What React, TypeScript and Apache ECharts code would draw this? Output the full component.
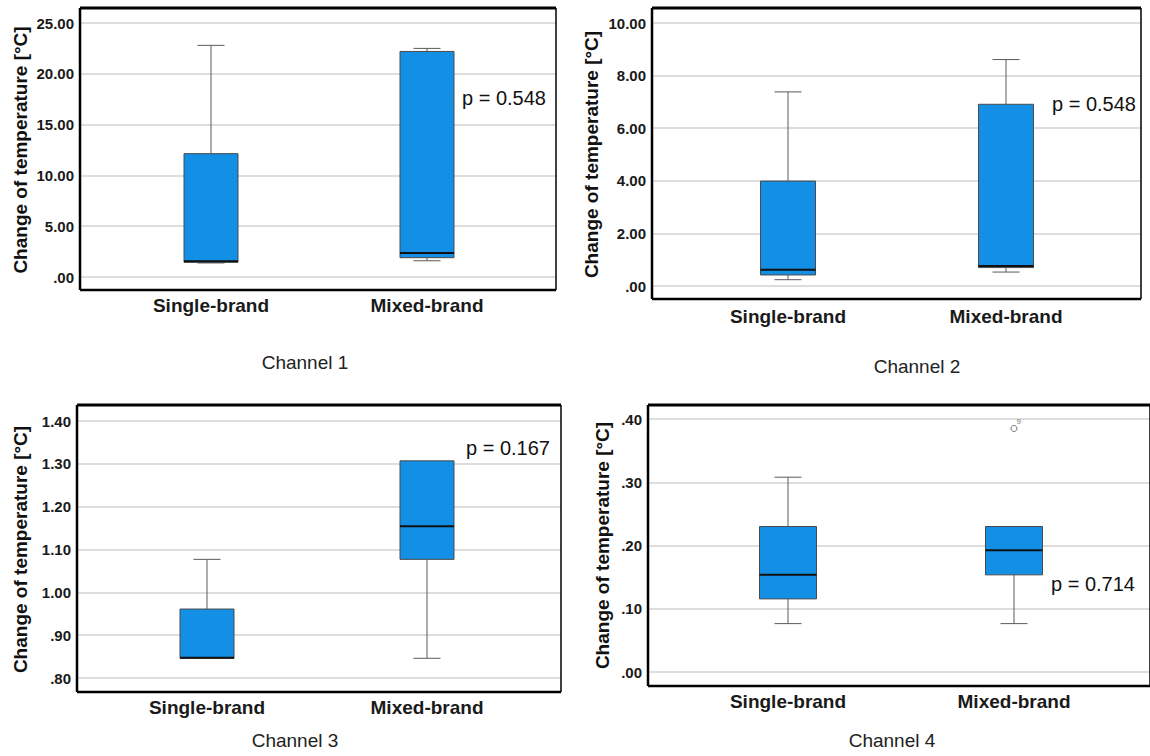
import React, { useEffect, useRef } from 'react';
import * as echarts from 'echarts';

// ---------- data ----------
const categories = ['Single-brand', 'Mixed-brand'];
const channelNames = ['Channel 1', 'Channel 2', 'Channel 3', 'Channel 4'];
const pValues = ['p = 0.548', 'p = 0.548', 'p = 0.167', 'p = 0.714'];
const yAxisTitle = 'Change of temperature [°C]';

// [lower whisker, Q1, median, Q3, upper whisker]
const ch1Single = [1.38, 1.45, 1.55, 12.14, 22.8];
const ch1Mixed = [1.6, 1.9, 2.37, 22.2, 22.5];
const ch2Single = [0.24, 0.42, 0.62, 3.99, 7.38];
const ch2Mixed = [0.53, 0.7, 0.76, 6.91, 8.61];
const ch3Single = [0.846, 0.846, 0.847, 0.961, 1.077];
const ch3Mixed = [0.846, 1.077, 1.154, 1.307, 1.307];
const ch4Single = [0.0765, 0.1156, 0.1536, 0.23, 0.308];
const ch4Mixed = [0.0765, 0.1536, 0.1926, 0.23, 0.23];
const ch4OutlierValues = [0.385];
const ch4OutlierLabels = ['9'];

const yMins = [0, 0, 0.8, 0];
const yMaxs = [25, 10, 1.4, 0.4];
const yIntervals = [5, 2, 0.1, 0.1];

// ---------- layout ----------
const FONT = '"Liberation Sans", Arial, sans-serif';
const panels = [
  { fx: 80, fy: 8, fw: 476, fh: 282, tTop: 23, tBot: 277, c1: 211, c2: 427, bw: 54, px: 462, py: 98, tx: 305, ty: 362, xm: 19, ng: 50 },
  { fx: 652, fy: 8, fw: 489, fh: 291, tTop: 23, tBot: 286, c1: 788, c2: 1006, bw: 55, px: 1052, py: 104, tx: 917, ty: 366, xm: 21, ng: 51 },
  { fx: 77, fy: 405, fw: 484, fh: 287, tTop: 421, tBot: 678, c1: 207, c2: 427, bw: 54, px: 466, py: 448, tx: 295, ty: 740, xm: 20, ng: 47 },
  { fx: 648, fy: 405, fw: 502, fh: 281, tTop: 419, tBot: 672, c1: 788, c2: 1014, bw: 57, px: 1051, py: 584, tx: 892, ty: 740, xm: 20, ng: 36 },
];
const boxData = [
  [ch1Single, ch1Mixed],
  [ch2Single, ch2Mixed],
  [ch3Single, ch3Mixed],
  [ch4Single, ch4Mixed],
];

const CAP_W = 27;

const fmt = (v: number) => {
  let s = Number(v).toFixed(2);
  if (s.startsWith('0.')) s = s.slice(1);
  return s;
};

const makeRenderBox = (boxW: number) => (params: any, api: any) => {
  const xi = api.value(0);
  const vals = [1, 2, 3, 4, 5].map((i) => api.value(i));
  const [pLo, pQ1, pMed, pQ3, pHi] = vals.map((v) => api.coord([xi, v]));
  const cx = pLo[0];
  const half = boxW / 2;
  const ch = CAP_W / 2;
  const whisk = { stroke: '#5a5a5a', lineWidth: 1 };
  const children: any[] = [];
  if (pHi[1] < pQ3[1] - 0.5) {
    children.push({ type: 'line', shape: { x1: cx, y1: pHi[1], x2: cx, y2: pQ3[1] }, style: whisk });
    children.push({ type: 'line', shape: { x1: cx - ch, y1: pHi[1], x2: cx + ch, y2: pHi[1] }, style: whisk });
  }
  if (pLo[1] > pQ1[1] + 0.5) {
    children.push({ type: 'line', shape: { x1: cx, y1: pQ1[1], x2: cx, y2: pLo[1] }, style: whisk });
    children.push({ type: 'line', shape: { x1: cx - ch, y1: pLo[1], x2: cx + ch, y2: pLo[1] }, style: whisk });
  }
  children.push({
    type: 'rect',
    shape: { x: cx - half, y: pQ3[1], width: boxW, height: pQ1[1] - pQ3[1] },
    style: { fill: '#138fe6', stroke: '#4a4a4a', lineWidth: 1 },
  });
  children.push({
    type: 'line',
    shape: { x1: cx - half, y1: pMed[1], x2: cx + half, y2: pMed[1] },
    style: { stroke: '#111', lineWidth: 2 },
  });
  return { type: 'group', children };
};

function buildOption() {
  const grid: any[] = [];
  const xAxis: any[] = [];
  const yAxis: any[] = [];
  const series: any[] = [];
  const graphic: any[] = [];

  panels.forEach((p, i) => {
    const h = p.tBot - p.tTop;
    // grid A: y labels and gridlines, full frame width
    grid.push({ left: p.fx, top: p.tTop, width: p.fw, height: h });
    // grid B: boxes and category labels
    const band = p.c2 - p.c1;
    grid.push({ left: p.c1 - band / 2, top: p.tTop, width: band * 2, height: h });

    xAxis.push({ type: 'value', gridIndex: 2 * i, min: 0, max: 1, show: false });
    xAxis.push({
      type: 'category',
      gridIndex: 2 * i + 1,
      data: categories,
      axisLine: { show: false },
      axisTick: { show: false },
      splitLine: { show: false },
      axisLabel: { margin: p.xm, fontFamily: FONT, fontWeight: 'bold', fontSize: 19, color: '#1a1a1a' },
    });
    yAxis.push({
      type: 'value',
      gridIndex: 2 * i,
      min: yMins[i],
      max: yMaxs[i],
      interval: yIntervals[i],
      axisLine: { show: false },
      axisTick: { show: false },
      splitLine: { show: true, lineStyle: { color: '#d2d2d2', width: 1.5 } },
      axisLabel: { margin: 6, formatter: fmt, fontFamily: FONT, fontWeight: 'bold', fontSize: 15, color: '#1a1a1a' },
      name: yAxisTitle,
      nameLocation: 'middle',
      nameRotate: 90,
      nameGap: p.ng,
      nameTextStyle: { fontFamily: FONT, fontWeight: 'bold', fontSize: 19, color: '#111' },
    });
    yAxis.push({ type: 'value', gridIndex: 2 * i + 1, min: yMins[i], max: yMaxs[i], show: false, splitLine: { show: false } });

    series.push({
      type: 'custom',
      xAxisIndex: 2 * i + 1,
      yAxisIndex: 2 * i + 1,
      renderItem: makeRenderBox(p.bw),
      encode: { x: 0, y: [1, 2, 3, 4, 5] },
      data: boxData[i].map((d, k) => [k, ...d]),
      z: 3,
    });

    // frame
    graphic.push({ type: 'line', shape: { x1: p.fx, y1: p.fy, x2: p.fx + p.fw, y2: p.fy }, style: { stroke: '#000', lineWidth: 3 }, z: 10 });
    graphic.push({ type: 'line', shape: { x1: p.fx, y1: p.fy, x2: p.fx, y2: p.fy + p.fh }, style: { stroke: '#000', lineWidth: 2.5 }, z: 10 });
    graphic.push({ type: 'line', shape: { x1: p.fx, y1: p.fy + p.fh, x2: p.fx + p.fw, y2: p.fy + p.fh }, style: { stroke: '#000', lineWidth: 2.5 }, z: 10 });
    graphic.push({ type: 'line', shape: { x1: p.fx + p.fw, y1: p.fy, x2: p.fx + p.fw, y2: p.fy + p.fh }, style: { stroke: '#000', lineWidth: 1.5 }, z: 10 });
    // p value
    graphic.push({
      type: 'text', x: p.px, y: p.py,
      style: { text: pValues[i], fontFamily: FONT, fontSize: 20, fill: '#111', verticalAlign: 'middle' },
      z: 10,
    });
    // channel title
    graphic.push({
      type: 'text', x: p.tx, y: p.ty,
      style: { text: channelNames[i], fontFamily: FONT, fontSize: 19, fill: '#222', align: 'center', verticalAlign: 'middle' },
      z: 10,
    });
  });

  series.push({
    type: 'scatter',
    xAxisIndex: 7,
    yAxisIndex: 7,
    data: ch4OutlierValues.map((v) => [1, v]),
    symbol: 'circle',
    symbolSize: 6,
    itemStyle: { color: '#fff', borderColor: '#555', borderWidth: 1 },
    label: {
      show: true,
      formatter: (pr: any) => ch4OutlierLabels[pr.dataIndex],
      position: [6, -7],
      fontSize: 8,
      fontFamily: FONT,
      color: '#555',
    },
    z: 4,
  });

  return {
    animation: false,
    backgroundColor: '#fff',
    grid,
    xAxis,
    yAxis,
    series,
    graphic,
  };
}

export default function App() {
  const ref = useRef<HTMLDivElement>(null);
  useEffect(() => {
    if (!ref.current) return;
    const chart = echarts.init(ref.current, undefined, { renderer: 'svg' });
    chart.setOption(buildOption() as any);
    return () => chart.dispose();
  }, []);
  return <div ref={ref} style={{ position: 'absolute', left: 0, top: 0, width: 1150, height: 756 }} />;
}
